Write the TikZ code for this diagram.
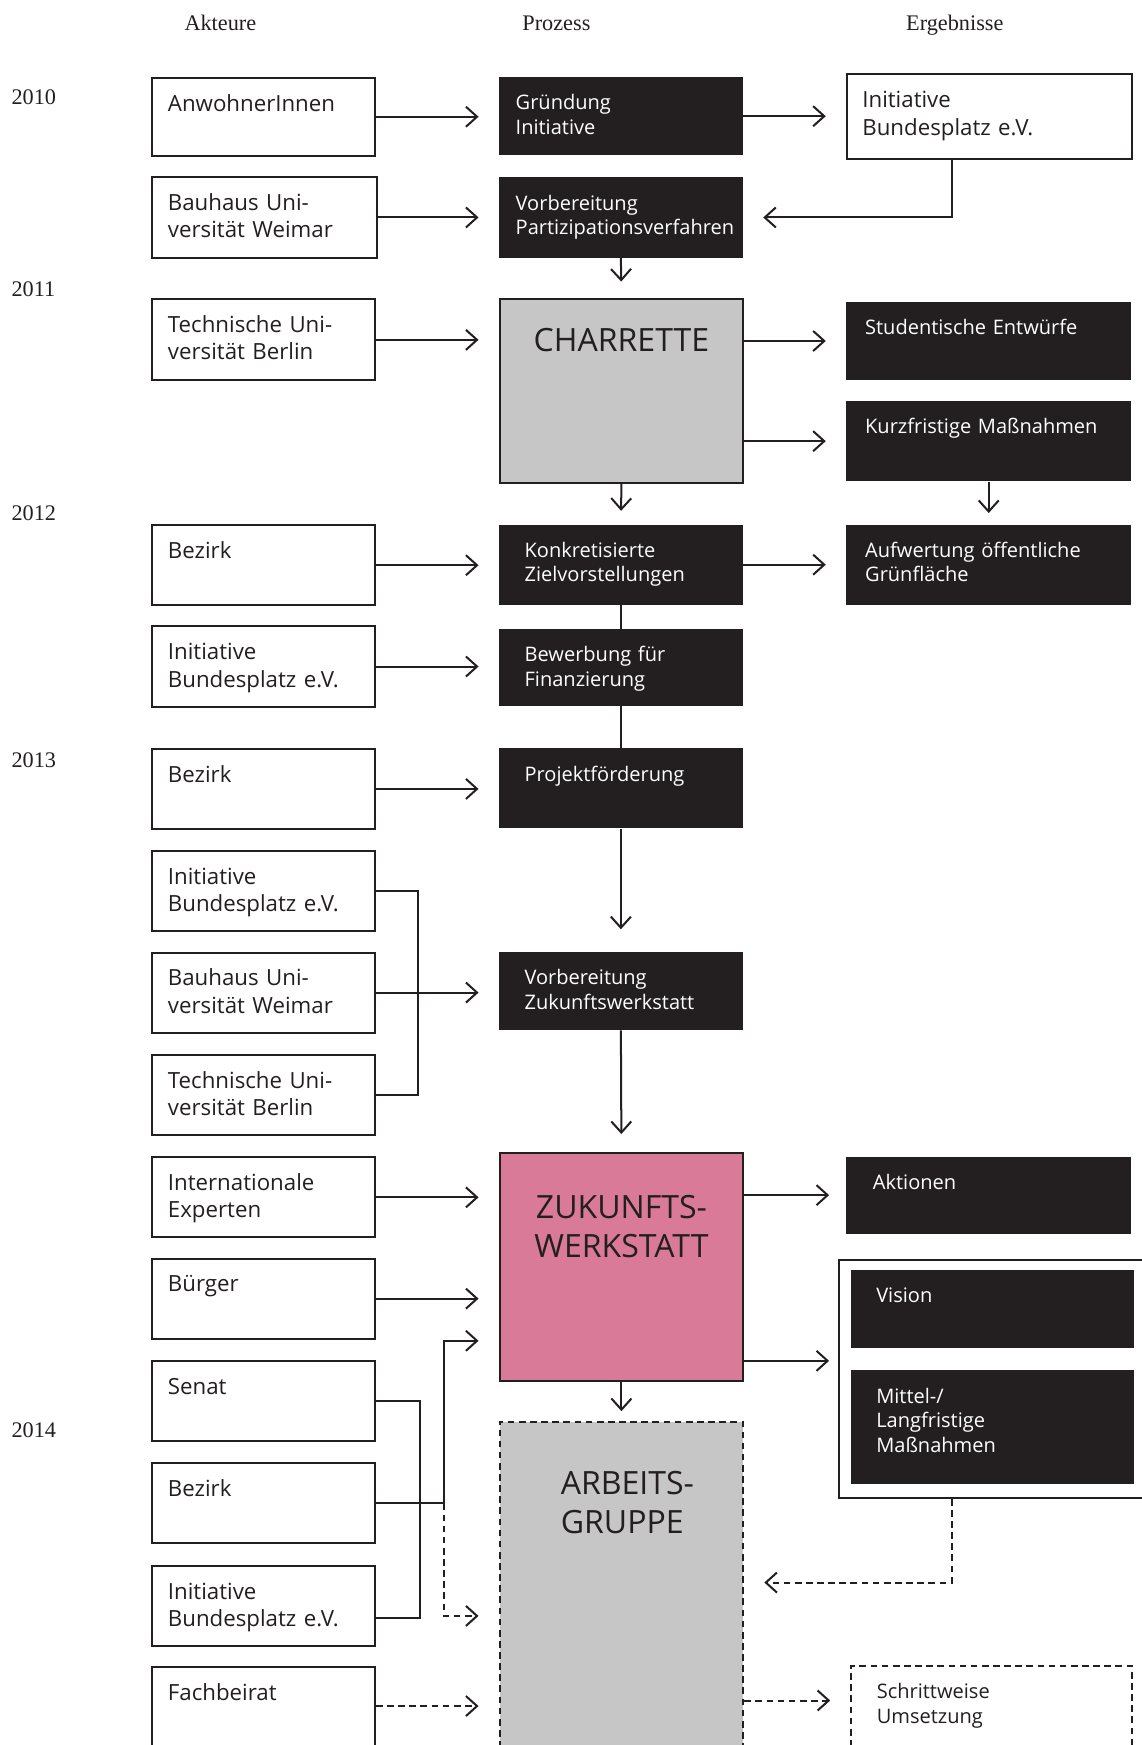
\documentclass[tikz,border=0pt]{standalone}
\usepackage{fontspec}
\setmainfont{Liberation Serif}
\newfontfamily\osans{Open Sans}
\usetikzlibrary{arrows.meta}

\definecolor{ink}{HTML}{231F20}
\definecolor{grau}{HTML}{C6C6C6}
\definecolor{rosa}{HTML}{D97A98}

\hyphenpenalty=10000
\newcommand{\weissfont}{\osans\fontsize{10}{12.25}\selectfont}
\newcommand{\schwarzfont}{\osans\fontsize{9}{11}\selectfont}
\newcommand{\titelfont}{\osans\fontsize{14.4}{17.5}\selectfont}

\tikzset{
	kopf/.style={font=\fontsize{10}{12}\selectfont, text=ink, anchor=base},
	jahr/.style={font=\fontsize{10}{12}\selectfont, text=ink, anchor=west, inner xsep=0pt},
	akteur/.style={draw=ink, line width=0.9pt, fill=white, text=ink, font=\weissfont, anchor=north west, align=left, inner xsep=7pt, inner ysep=0pt, text width=86pt, text height=15pt, text depth=21pt},
	schwarz/.style={fill=ink, text=white, font=\schwarzfont, anchor=north west, align=left, inner ysep=0pt, text height=14.7pt, text depth=21.3pt},
	prozess/.style={schwarz, inner xsep=11.5pt, text width=86.5pt},
	ergebnis/.style={schwarz, inner xsep=8.5pt, text width=111pt},
	titel/.style={draw=ink, line width=0.9pt, fill=grau, text=ink, font=\titelfont, anchor=north west, align=center, inner xsep=0pt, inner ysep=0pt, text width=109.5pt},
	gestr/.style={dash pattern=on 3pt off 2pt},
	linie/.style={draw=ink, line width=0.9pt},
	pfeil/.style={linie, -{Straight Barb[length=5pt,width=9pt]}, shorten >=9pt},
}

\begin{document}
\begin{tikzpicture}[x=0.5pt, y=-0.5pt]
	\path[use as bounding box, fill=white] (0,0) rectangle (1026,1568);

	%headers
	\node[kopf] (kAkteure) at (198,27) {Akteure};
	\node[kopf] (kProzess) at (500,27) {Prozess};
	\node[kopf] (kErgebnisse) at (858,27) {Ergebnisse};

	%years
	\node[jahr] (j2010) at (10,87) {2010};
	\node[jahr] (j2011) at (10,260) {2011};
	\node[jahr] (j2012) at (10,461) {2012};
	\node[jahr] (j2013) at (10,683) {2013};
	\node[jahr] (j2014) at (10,1285) {2014};

	%Akteure
	\node[akteur, text depth=20pt] (a1) at (136,69) {AnwohnerInnen};
	\node[akteur, text width=87pt, text depth=21.5pt] (a2) at (136,158) {Bauhaus Uni-\\versität Weimar};
	\node[akteur, text depth=21.5pt] (a3) at (136,268) {Technische Uni-\\versität Berlin};
	\node[akteur] (a4) at (136,471) {Bezirk};
	\node[akteur] (a5) at (136,562) {Initiative\\Bundesplatz e.V.};
	\node[akteur] (a6) at (136,672) {Bezirk};
	\node[akteur] (a7) at (136,764) {Initiative\\Bundesplatz e.V.};
	\node[akteur] (a8) at (136,855) {Bauhaus Uni-\\versität Weimar};
	\node[akteur] (a9) at (136,947) {Technische Uni-\\versität Berlin};
	\node[akteur] (a10) at (136,1039) {Internationale\\Experten};
	\node[akteur] (a11) at (136,1130) {Bürger};
	\node[akteur] (a12) at (136,1222) {Senat};
	\node[akteur] (a13) at (136,1314) {Bezirk};
	\node[akteur] (a14) at (136,1406) {Initiative\\Bundesplatz e.V.};
	\node[akteur, text depth=30pt] (a15) at (136,1497) {Fachbeirat};

	%Prozess
	\node[prozess, inner xsep=7.5pt, text width=94.5pt, text depth=20.3pt] (p1) at (448,69) {Gründung\\Initiative};
	\node[prozess, inner xsep=7.5pt, text width=94.5pt] (p2) at (448,159) {Vorbereitung\\Partizipationsverfahren};
	\node[titel, text height=23.5pt, text depth=59pt] (p3) at (448,268) {CHARRETTE};
	\node[prozess] (p4) at (448,471) {Konkretisierte\\Zielvorstellungen};
	\node[prozess, text depth=19.8pt] (p5) at (448,565) {Bewerbung für\\Finanzierung};
	\node[prozess] (p6) at (448,672) {Projektförderung};
	\node[prozess, text depth=20.3pt] (p7) at (448,855) {Vorbereitung\\Zukunftswerkstatt};
	\node[titel, fill=rosa, text height=29.7pt, text depth=72.8pt] (p8) at (448,1035) {ZUKUNFTS-\\WERKSTATT};
	\node[titel, gestr, align=left, inner xsep=27.5pt, text width=54.5pt, text height=32.7pt, text depth=130pt] (p9) at (448,1277) {\mbox{ARBEITS-}\\GRUPPE};

	%Ergebnisse
	\node[akteur, text width=114pt, text depth=23pt] (e1) at (760,66) {Initiative\\Bundesplatz e.V.};
	\node[ergebnis, text depth=20.3pt] (e2) at (760,271) {Studentische~Entwürfe};
	\node[ergebnis] (e3) at (760,360) {Kurzfristige~Maßnahmen};
	\node[ergebnis] (e4) at (760,471) {Aufwertung öffentliche\\Grünfläche};
	\node[ergebnis, inner xsep=12pt, text width=104pt, text depth=19.8pt] (e5) at (760,1039) {Aktionen};
	\node[draw=ink, line width=0.9pt, fill=white, anchor=north west, minimum width=150pt, minimum height=107pt, inner sep=0pt] (ergbox) at (753,1131) {};
	\node[ergebnis, inner xsep=11.5pt, text width=104.5pt, text depth=20.3pt] (e6) at (764,1141) {Vision};
	\node[ergebnis, inner xsep=11.5pt, text width=104.5pt, text depth=36.3pt] (e7) at (764,1231) {Mittel-/\\Langfristige\\Maßnahmen};
	\node[akteur, gestr, font=\schwarzfont, inner xsep=11.5pt, text width=103pt, text height=14.7pt, text depth=30pt] (e8) at (764,1496) {Schrittweise\\Umsetzung};

	%2010
	\draw[pfeil] (a1.east) -- (a1.east -| p1.west);
	\draw[pfeil] (a2.east) -- (a2.east -| p2.west);
	\draw[pfeil] (p1.east) -- (p1.east -| e1.west);
	\draw[pfeil] ([xshift=47.5pt]e1.south west) |- (p2.east);
	\draw[pfeil, shorten >=7.5pt] (p2.south) -- (p3.north);
	%2011
	\draw[pfeil] (a3.east) -- (a3.east -| p3.west);
	\draw[pfeil] (e2.west -| p3.east) -- (e2.west);
	\draw[pfeil] (e3.west -| p3.east) -- (e3.west);
	\draw[pfeil, shorten >=6pt] (p3.south) -- (p4.north);
	\draw[pfeil, shorten >=5pt] (e3.south) -- (e4.north);
	%2012
	\draw[pfeil] (a4.east) -- (a4.east -| p4.west);
	\draw[pfeil] (p4.east) -- (p4.east -| e4.west);
	\draw[linie] (p4.south) -- (p5.north);
	\draw[pfeil] (a5.east) -- (a5.east -| p5.west);
	\draw[linie] (p5.south) -- (p6.north);
	%2013
	\draw[pfeil] (a6.east) -- (a6.east -| p6.west);
	\draw[pfeil, shorten >=10pt] (p6.south) -- (p7.north);
	\draw[linie] (a7.east) -| ([xshift=19pt]a9.east) -- (a9.east);
	\draw[pfeil] (a8.east) -- (a8.east -| p7.west);
	\draw[pfeil, shorten >=8pt] (p7.south) -- (p8.north);
	\draw[pfeil] (a10.east) -- (a10.east -| p8.west);
	\draw[pfeil] (a11.east) -- (a11.east -| p8.west);
	\draw[pfeil, shorten >=7.5pt] (e5.west -| p8.east) -- (e5.west);
	\draw[pfeil, shorten >=4pt] ([yshift=9.5pt]p8.south east) -- ([yshift=9.5pt]p8.south east -| ergbox.west);
	\draw[pfeil, shorten >=4.5pt] (p8.south) -- (p9.north);
	%2014
	\draw[linie] (a12.east) -| ([xshift=20pt,yshift=-5.5pt]a14.east) -- ([yshift=-5.5pt]a14.east);
	\draw[linie] (a13.east) -- ++(30.5pt,0) coordinate (kb);
	\draw[pfeil] (kb) |- ([yshift=18.5pt]p8.south west);
	\draw[pfeil, gestr] (kb) |- ([yshift=-87.5pt]p9.north west);
	\draw[pfeil, gestr] ([xshift=51pt]ergbox.south west) |- ([yshift=-72.5pt]p9.north east);
	\draw[pfeil, gestr] ([yshift=-18pt]a15.north east) -- ([yshift=-18pt]a15.north east -| p9.west);
	\draw[pfeil, gestr] ([yshift=-16pt]e8.north west -| p9.east) -- ([yshift=-16pt]e8.north west);
\end{tikzpicture}
\end{document}
